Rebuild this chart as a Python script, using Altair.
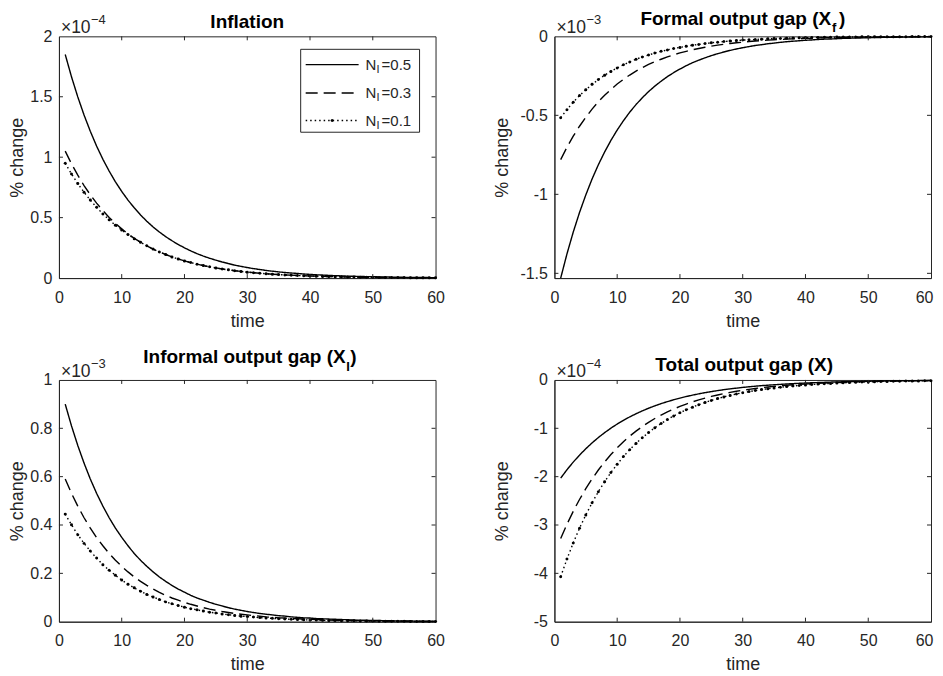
import altair as alt
import pandas as pd

# ---------------- data (values in the units shown on each axis) ----------------
time = list(range(1, 61))
series_names = ["0.5", "0.3", "0.1"]

# Inflation, x1e-4
infl_05 = [1.850, 1.665, 1.499, 1.349, 1.214, 1.092, 0.983, 0.885, 0.796, 0.717,
           0.645, 0.581, 0.522, 0.470, 0.423, 0.381, 0.343, 0.309, 0.278, 0.250,
           0.225, 0.202, 0.182, 0.164, 0.148, 0.133, 0.120, 0.107, 0.097, 0.087,
           0.078, 0.071, 0.063, 0.057, 0.051, 0.046, 0.042, 0.038, 0.034, 0.030,
           0.027, 0.025, 0.022, 0.020, 0.018, 0.016, 0.015, 0.013, 0.012, 0.011,
           0.010, 0.009, 0.008, 0.007, 0.006, 0.006, 0.005, 0.005, 0.004, 0.004]
infl_03 = [1.050, 0.945, 0.851, 0.765, 0.689, 0.620, 0.558, 0.502, 0.452, 0.407,
           0.366, 0.329, 0.297, 0.267, 0.240, 0.216, 0.195, 0.175, 0.158, 0.142,
           0.128, 0.115, 0.103, 0.093, 0.084, 0.075, 0.068, 0.061, 0.055, 0.049,
           0.045, 0.040, 0.036, 0.032, 0.029, 0.026, 0.024, 0.021, 0.019, 0.017,
           0.016, 0.014, 0.013, 0.011, 0.010, 0.009, 0.008, 0.007, 0.007, 0.006,
           0.005, 0.005, 0.004, 0.004, 0.004, 0.003, 0.003, 0.003, 0.002, 0.002]
infl_01 = [0.950, 0.862, 0.782, 0.710, 0.645, 0.585, 0.531, 0.482, 0.437, 0.397,
           0.360, 0.326, 0.296, 0.267, 0.240, 0.216, 0.195, 0.175, 0.158, 0.142,
           0.128, 0.115, 0.103, 0.093, 0.084, 0.075, 0.068, 0.061, 0.055, 0.049,
           0.045, 0.040, 0.036, 0.032, 0.029, 0.026, 0.024, 0.021, 0.019, 0.017,
           0.016, 0.014, 0.013, 0.011, 0.010, 0.009, 0.008, 0.007, 0.007, 0.006,
           0.005, 0.005, 0.004, 0.004, 0.004, 0.003, 0.003, 0.003, 0.002, 0.002]

# Formal output gap, x1e-3
fx_05 = [-1.530, -1.377, -1.239, -1.115, -1.004, -0.903, -0.813, -0.732, -0.659, -0.593,
         -0.534, -0.480, -0.432, -0.389, -0.350, -0.315, -0.284, -0.255, -0.230, -0.207,
         -0.186, -0.167, -0.151, -0.136, -0.122, -0.110, -0.099, -0.089, -0.080, -0.072,
         -0.065, -0.058, -0.053, -0.047, -0.043, -0.038, -0.034, -0.031, -0.028, -0.025,
         -0.023, -0.020, -0.018, -0.017, -0.015, -0.013, -0.012, -0.011, -0.010, -0.009,
         -0.008, -0.007, -0.006, -0.006, -0.005, -0.005, -0.004, -0.004, -0.003, -0.003]
fx_03 = [-0.780, -0.702, -0.632, -0.569, -0.512, -0.461, -0.414, -0.373, -0.336, -0.302,
         -0.272, -0.245, -0.220, -0.198, -0.178, -0.161, -0.145, -0.130, -0.117, -0.105,
         -0.095, -0.085, -0.077, -0.069, -0.062, -0.056, -0.050, -0.045, -0.041, -0.037,
         -0.033, -0.030, -0.027, -0.024, -0.022, -0.020, -0.018, -0.016, -0.014, -0.013,
         -0.012, -0.010, -0.009, -0.008, -0.008, -0.007, -0.006, -0.006, -0.005, -0.004,
         -0.004, -0.004, -0.003, -0.003, -0.003, -0.002, -0.002, -0.002, -0.002, -0.002]
fx_01 = [-0.515, -0.464, -0.417, -0.375, -0.338, -0.304, -0.274, -0.246, -0.222, -0.200,
         -0.180, -0.162, -0.145, -0.131, -0.118, -0.106, -0.095, -0.086, -0.077, -0.070,
         -0.063, -0.056, -0.051, -0.046, -0.041, -0.037, -0.033, -0.030, -0.027, -0.024,
         -0.022, -0.020, -0.018, -0.016, -0.014, -0.013, -0.012, -0.010, -0.009, -0.008,
         -0.008, -0.007, -0.006, -0.006, -0.005, -0.004, -0.004, -0.004, -0.003, -0.003,
         -0.003, -0.002, -0.002, -0.002, -0.002, -0.002, -0.001, -0.001, -0.001, -0.001]

# Informal output gap, x1e-3
ix_05 = [0.900, 0.810, 0.729, 0.656, 0.590, 0.531, 0.478, 0.430, 0.387, 0.349,
         0.314, 0.282, 0.254, 0.229, 0.206, 0.185, 0.167, 0.150, 0.135, 0.122,
         0.109, 0.098, 0.089, 0.080, 0.072, 0.065, 0.058, 0.052, 0.047, 0.042,
         0.038, 0.034, 0.031, 0.028, 0.025, 0.023, 0.020, 0.018, 0.016, 0.015,
         0.013, 0.012, 0.011, 0.010, 0.009, 0.008, 0.007, 0.006, 0.006, 0.005,
         0.005, 0.004, 0.004, 0.003, 0.003, 0.003, 0.002, 0.002, 0.002, 0.002]
ix_03 = [0.590, 0.531, 0.478, 0.430, 0.387, 0.348, 0.314, 0.282, 0.254, 0.229,
         0.206, 0.185, 0.167, 0.150, 0.135, 0.121, 0.109, 0.098, 0.089, 0.080,
         0.072, 0.065, 0.058, 0.052, 0.047, 0.042, 0.038, 0.034, 0.031, 0.028,
         0.025, 0.023, 0.020, 0.018, 0.016, 0.015, 0.013, 0.012, 0.011, 0.010,
         0.009, 0.008, 0.007, 0.006, 0.006, 0.005, 0.005, 0.004, 0.004, 0.003,
         0.003, 0.003, 0.002, 0.002, 0.002, 0.002, 0.002, 0.001, 0.001, 0.001]
ix_01 = [0.445, 0.401, 0.360, 0.324, 0.292, 0.263, 0.236, 0.213, 0.192, 0.172,
         0.155, 0.140, 0.126, 0.113, 0.102, 0.092, 0.082, 0.074, 0.067, 0.060,
         0.054, 0.049, 0.044, 0.039, 0.036, 0.032, 0.029, 0.026, 0.023, 0.021,
         0.019, 0.017, 0.015, 0.014, 0.012, 0.011, 0.010, 0.009, 0.008, 0.007,
         0.007, 0.006, 0.005, 0.005, 0.004, 0.004, 0.004, 0.003, 0.003, 0.003,
         0.002, 0.002, 0.002, 0.002, 0.002, 0.001, 0.001, 0.001, 0.001, 0.001]

# Total output gap, x1e-4
tx_05 = [-2.030, -1.857, -1.699, -1.555, -1.423, -1.302, -1.191, -1.090, -0.997, -0.912,
         -0.835, -0.764, -0.699, -0.639, -0.585, -0.535, -0.490, -0.448, -0.410, -0.375,
         -0.343, -0.314, -0.287, -0.263, -0.241, -0.220, -0.201, -0.184, -0.169, -0.154,
         -0.141, -0.129, -0.118, -0.108, -0.099, -0.091, -0.083, -0.076, -0.069, -0.063,
         -0.058, -0.053, -0.049, -0.044, -0.041, -0.037, -0.034, -0.031, -0.029, -0.026,
         -0.024, -0.022, -0.020, -0.018, -0.017, -0.015, -0.014, -0.013, -0.012, -0.011]
tx_03 = [-3.280, -2.985, -2.716, -2.472, -2.249, -2.047, -1.863, -1.695, -1.543, -1.404,
         -1.277, -1.162, -1.058, -0.963, -0.876, -0.797, -0.725, -0.660, -0.601, -0.547,
         -0.498, -0.453, -0.412, -0.375, -0.341, -0.310, -0.282, -0.257, -0.234, -0.213,
         -0.194, -0.176, -0.160, -0.146, -0.133, -0.121, -0.110, -0.100, -0.091, -0.083,
         -0.075, -0.069, -0.063, -0.057, -0.052, -0.047, -0.043, -0.039, -0.035, -0.032,
         -0.030, -0.027, -0.024, -0.022, -0.020, -0.018, -0.017, -0.015, -0.014, -0.012]
tx_01 = [-4.070, -3.704, -3.370, -3.067, -2.791, -2.540, -2.311, -2.103, -1.914, -1.742,
         -1.585, -1.442, -1.313, -1.195, -1.087, -0.989, -0.900, -0.819, -0.745, -0.678,
         -0.617, -0.562, -0.511, -0.465, -0.423, -0.385, -0.350, -0.319, -0.290, -0.264,
         -0.241, -0.219, -0.199, -0.181, -0.165, -0.150, -0.136, -0.124, -0.113, -0.103,
         -0.094, -0.085, -0.078, -0.071, -0.064, -0.059, -0.053, -0.048, -0.044, -0.040,
         -0.037, -0.033, -0.030, -0.028, -0.025, -0.023, -0.021, -0.019, -0.017, -0.015]

x_ticks = [0, 10, 20, 30, 40, 50, 60]

# ---------------- styling ----------------
FONT = "Liberation Sans"
INK = "#262626"
W, H = 377, 242
TICK = 4
DASH = {"0.5": [1, 0], "0.3": [12, 6], "0.1": [1.5, 3]}


def txt(s, x, y, size, bold=False, align="left", color="black"):
    return alt.Chart(pd.DataFrame({"s": [s]})).mark_text(
        align=align, baseline="alphabetic", font=FONT, fontSize=size,
        fontWeight="bold" if bold else "normal", color=color
    ).encode(x=alt.value(x), y=alt.value(y), text="s:N")


def panel(v05, v03, v01, ydom, yvals, title_layers, exp_sup, title_x,
          legend=False, last_shift=0):
    rows = []
    for name, vals in zip(series_names, (v05, v03, v01)):
        for t, v in zip(time, vals):
            rows.append({"time": t, "value": v, "series": name})
    df = pd.DataFrame(rows)

    xsc = alt.Scale(domain=[0, 60], nice=False, zero=False)
    ysc = alt.Scale(domain=ydom, nice=False, zero=False)
    xax = alt.Axis(values=x_ticks, title="time", grid=False, ticks=False, tickSize=0,
                   labelPadding=11, titlePadding=7, domainColor=INK, labelColor=INK,
                   titleColor=INK, labelFont=FONT, titleFont=FONT, labelFontSize=16,
                   titleFontSize=18, titleFontWeight="normal", labelFlush=False,
                   labelOffset={"condition": {"test": "datum.value == 60",
                                              "value": last_shift}, "value": 0})
    yax = alt.Axis(values=yvals, title="% change", grid=False, ticks=False, tickSize=0,
                   labelPadding=7, labelExpr="toString(datum.value)",
                   titleX=title_x, titleY=H / 2,
                   domainColor=INK, labelColor=INK, titleColor=INK, labelFont=FONT,
                   titleFont=FONT, labelFontSize=16, titleFontSize=18,
                   titleFontWeight="normal", labelFlush=False)
    X = lambda: alt.X("time:Q", scale=xsc, axis=xax)
    Y = lambda: alt.Y("value:Q", scale=ysc, axis=yax)

    lines = alt.Chart(df).mark_line(color="black", strokeWidth=1.4).encode(
        x=X(), y=Y(),
        strokeDash=alt.StrokeDash("series:N",
                                  scale=alt.Scale(domain=series_names,
                                                  range=[DASH[s] for s in series_names]),
                                  legend=None),
    )
    pts = alt.Chart(df).transform_filter(alt.datum.series == "0.1").mark_point(
        filled=True, size=9, color="black", opacity=1, strokeWidth=0
    ).encode(x=X(), y=Y())

    xt = pd.DataFrame({"time": x_ticks[1:-1]})
    yt = pd.DataFrame({"value": [v for v in yvals if v not in ydom]})
    tk = dict(color=INK, strokeWidth=1)
    ticks = [
        alt.Chart(xt).mark_rule(**tk).encode(x=X(), y=alt.value(H), y2=alt.value(H - TICK)),
        alt.Chart(xt).mark_rule(**tk).encode(x=X(), y=alt.value(0), y2=alt.value(TICK)),
        alt.Chart(yt).mark_rule(**tk).encode(y=Y(), x=alt.value(0), x2=alt.value(TICK)),
        alt.Chart(yt).mark_rule(**tk).encode(y=Y(), x=alt.value(W), x2=alt.value(W - TICK)),
    ]

    exp = [txt("\u00d710", 2, -3, 17.5, color=INK),
           txt(exp_sup, 32, -12, 13, color=INK)]

    layers = [lines, pts] + ticks + title_layers + exp

    if legend:
        box = alt.Chart(pd.DataFrame({"a": [0]})).mark_rect(
            fill="white", stroke=INK, strokeWidth=1
        ).encode(x=alt.value(242), x2=alt.value(361), y=alt.value(13), y2=alt.value(96))
        layers.append(box)
        rows_y = [28.3, 56.7, 84.3]
        for name, ly in zip(series_names, rows_y):
            layers.append(
                alt.Chart(pd.DataFrame({"a": [0]})).mark_rule(
                    color="black", strokeWidth=1.4, strokeDash=DASH[name]
                ).encode(x=alt.value(247), x2=alt.value(300), y=alt.value(ly))
            )
            if name == "0.1":
                layers.append(
                    alt.Chart(pd.DataFrame({"a": [0]})).mark_point(
                        filled=True, size=9, color="black", opacity=1, strokeWidth=0
                    ).encode(x=alt.value(273.5), y=alt.value(ly))
                )
            layers.append(txt("N", 307, ly + 5, 15, color=INK))
            layers.append(txt("I", 318, ly + 8.5, 11, color=INK))
            layers.append(txt("=" + name, 323, ly + 5, 15, color=INK))

    return alt.layer(*layers).properties(width=W, height=H)


p1 = panel(infl_05, infl_03, infl_01, [0, 2], [0, 0.5, 1, 1.5, 2],
           [txt("Inflation", W / 2, -8, 19, bold=True, align="center")],
           "\u22124", -32, legend=True)
p2 = panel(fx_05, fx_03, fx_01, [-1.53, 0], [-1.5, -1, -0.5, 0],
           [txt("Formal output gap (X", 277, -11, 19, bold=True, align="right"),
            txt("f", 278, -4, 13, bold=True),
            txt(")", 285, -11, 19, bold=True)],
           "\u22123", -43, last_shift=-7)
p3 = panel(ix_05, ix_03, ix_01, [0, 1], [0, 0.2, 0.4, 0.6, 0.8, 1],
           [txt("Informal output gap (X", 287, -17, 19, bold=True, align="right"),
            txt("I", 287.5, -9, 13, bold=True),
            txt(")", 291.5, -17, 19, bold=True)],
           "\u22123", -32)
p4 = panel(tx_05, tx_03, tx_01, [-5, 0], [-5, -4, -3, -2, -1, 0],
           [txt("Total output gap (X)", 190, -9, 19, bold=True, align="center")],
           "\u22124", -43, last_shift=-7)

chart = alt.concat(p1, p2, p3, p4, columns=2,
                   spacing={"row": 102, "column": 119}, bounds="flush").configure_view(
    stroke=INK, strokeWidth=1
).properties(padding={"left": 0, "top": 1, "right": 0, "bottom": 2}, background="white")

chart.save("out.html", embed_options={"renderer": "svg", "actions": False})
